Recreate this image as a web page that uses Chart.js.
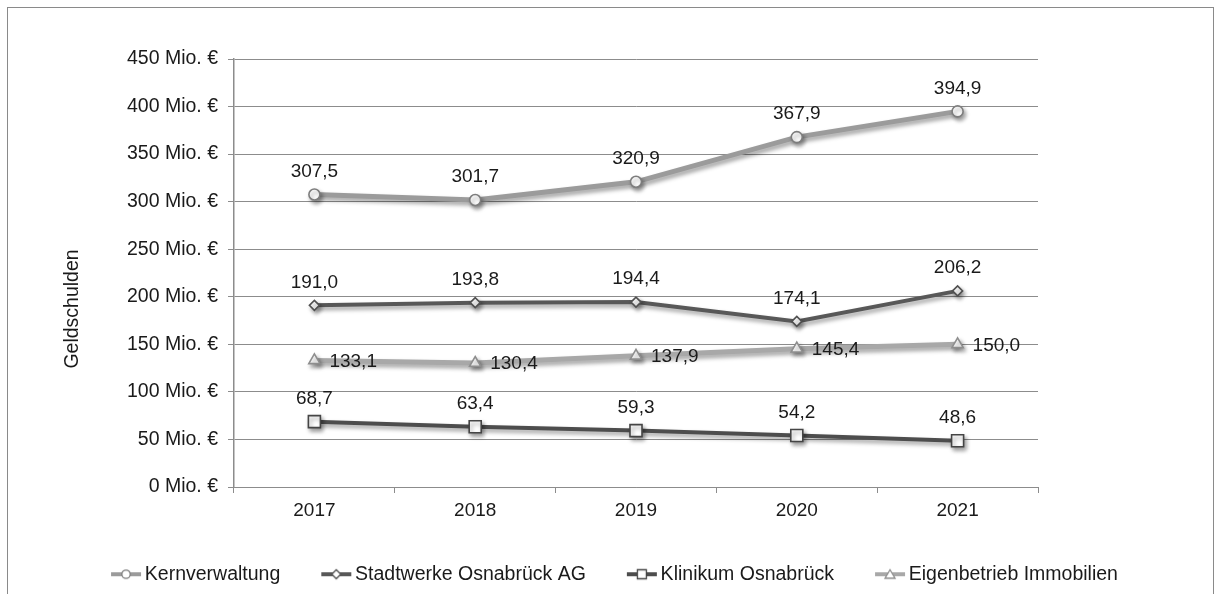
<!DOCTYPE html>
<html>
<head>
<meta charset="utf-8">
<script src="https://cdn.jsdelivr.net/npm/chart.js@4/dist/chart.umd.min.js"></script>
<style>
  html, body { margin: 0; padding: 0; background: #fff; }
  #frame { position: absolute; left: 7px; top: 7px; width: 1207px; height: 620px; border: 1px solid #8a8a8a; box-sizing: border-box; }
  #wrap { position: absolute; left: 0; top: 0; width: 1214px; height: 594px; }
</style>
</head>
<body>
<div id="frame"></div>
<div id="wrap"><canvas id="c" width="1214" height="594"></canvas></div>
<script>
// Jahre
const years = ['2017', '2018', '2019', '2020', '2021'];

// Geldschulden in Mio. €
const kernverwaltung = [307.5, 301.7, 320.9, 367.9, 394.9];
const stadtwerke     = [191.0, 193.8, 194.4, 174.1, 206.2];
const klinikum       = [68.7, 63.4, 59.3, 54.2, 48.6];
const eigenbetrieb   = [133.1, 130.4, 137.9, 145.4, 150.0];

const seriesNames = ['Kernverwaltung', 'Stadtwerke Osnabrück AG', 'Klinikum Osnabrück', 'Eigenbetrieb Immobilien'];

// Achse
const yMin = 0, yMax = 450, yStep = 50;
const yUnit = ' Mio. €';
const yTitle = 'Geldschulden';

const FONT = "'Liberation Sans', Arial, sans-serif";
const TEXT = '#1a1a1a';
const GRID = '#8c8c8c';

const fmt = v => v.toFixed(1).replace('.', ',');

// small legend icon: line segment with the series marker in the middle
function legendIcon(lineColor, markerColor, style) {
  const bw = 55, W = bw + 14, H = 14;
  const cv = document.createElement('canvas');
  cv.width = W; cv.height = H;
  const c = cv.getContext('2d');
  const x0 = W - 31, x1 = W - 1, cy = H / 2, cx = (x0 + x1) / 2;
  c.strokeStyle = lineColor; c.lineWidth = 4;
  c.beginPath(); c.moveTo(x0, cy); c.lineTo(x1, cy); c.stroke();
  c.fillStyle = '#fff'; c.strokeStyle = markerColor; c.lineWidth = 1.3;
  c.beginPath();
  if (style === 'circle') c.arc(cx, cy, 4.2, 0, Math.PI * 2);
  else if (style === 'rectRot') { c.moveTo(cx, cy - 4.5); c.lineTo(cx + 4.5, cy); c.lineTo(cx, cy + 4.5); c.lineTo(cx - 4.5, cy); c.closePath(); }
  else if (style === 'rect') c.rect(cx - 4.5, cy - 4.5, 9, 9);
  else { c.moveTo(cx, cy - 4.5); c.lineTo(cx + 5, cy + 4); c.lineTo(cx - 5, cy + 4); c.closePath(); }
  c.fill(); c.stroke();
  return cv;
}

const styles = [
  { data: kernverwaltung, line: '#9b9b9b', mark: '#7d7d7d', ps: 'circle', r: 5.5, w: 5, pos: 'above' },
  { data: stadtwerke,     line: '#585858', mark: '#505050', ps: 'rectRot', r: 5, w: 4, pos: 'above' },
  { data: klinikum,       line: '#4d4d4d', mark: '#454545', ps: 'rect', r: 8.5, w: 4, pos: 'above' },
  { data: eigenbetrieb,   line: '#a8a8a8', mark: '#8e8e8e', ps: 'triangle', r: 6.5, w: 5, pos: 'right' }
];

const datasets = styles.map((s, i) => ({
  label: seriesNames[i],
  data: s.data,
  borderColor: s.line,
  borderWidth: s.w,
  backgroundColor: '#ffffff',
  pointStyle: s.ps,
  pointRadius: s.r,
  pointHoverRadius: s.r,
  pointBackgroundColor: '#ffffff',
  pointBorderColor: s.mark,
  pointBorderWidth: 1.6,
  tension: 0,
  fill: false,
  labelPos: s.pos,
  legendIcon: legendIcon(s.line, s.mark, s.ps)
}));

// soft drop shadow under each series
const shadowPlugin = {
  id: 'shadow',
  beforeDatasetDraw(chart) {
    const ctx = chart.ctx;
    ctx.save();
    ctx.shadowColor = 'rgba(0,0,0,0.38)';
    ctx.shadowBlur = 4;
    ctx.shadowOffsetX = 2;
    ctx.shadowOffsetY = 3;
  },
  afterDatasetDraw(chart) { chart.ctx.restore(); }
};

// value labels next to the points
const valueLabels = {
  id: 'valueLabels',
  afterDatasetsDraw(chart) {
    const ctx = chart.ctx;
    ctx.save();
    ctx.font = '19px ' + FONT;
    ctx.fillStyle = TEXT;
    chart.data.datasets.forEach((ds, i) => {
      const meta = chart.getDatasetMeta(i);
      meta.data.forEach((pt, j) => {
        const txt = fmt(ds.data[j]);
        if (ds.labelPos === 'right') {
          ctx.textAlign = 'left'; ctx.textBaseline = 'middle';
          ctx.fillText(txt, pt.x + 15, pt.y + 1);
        } else {
          ctx.textAlign = 'center'; ctx.textBaseline = 'middle';
          ctx.fillText(txt, pt.x, pt.y - 23);
        }
      });
    });
    ctx.restore();
  }
};

// rotated axis title left of the value axis
const axisTitle = {
  id: 'axisTitle',
  afterDraw(chart) {
    const ctx = chart.ctx;
    ctx.save();
    ctx.translate(73, 309);
    ctx.rotate(-Math.PI / 2);
    ctx.font = '19.5px ' + FONT;
    ctx.fillStyle = TEXT;
    ctx.textAlign = 'center'; ctx.textBaseline = 'middle';
    ctx.fillText(yTitle, 0, 0);
    ctx.restore();
  }
};

new Chart(document.getElementById('c'), {
  type: 'line',
  data: { labels: years, datasets },
  plugins: [shadowPlugin, valueLabels, axisTitle],
  options: {
    responsive: false,
    animation: false,
    events: [],
    layout: { padding: { left: 0, right: 16, top: 59, bottom: 0 } },
    plugins: {
      tooltip: { enabled: false },
      legend: {
        position: 'bottom',
        labels: {
          usePointStyle: true,
          pointStyleWidth: 55,
          padding: 10,
          color: TEXT,
          font: { family: FONT, size: 19.5 },
          generateLabels(chart) {
            return chart.data.datasets.map((ds, i) => ({
              text: ds.label,
              pointStyle: ds.legendIcon,
              fillStyle: '#fff',
              strokeStyle: ds.borderColor,
              lineWidth: 0,
              hidden: false,
              datasetIndex: i,
              fontColor: TEXT
            }));
          }
        }
      }
    },
    scales: {
      x: {
        offset: true,
        grid: { display: true, offset: true, drawOnChartArea: false, tickLength: 6, color: GRID, lineWidth: 1 },
        border: { display: true, color: GRID, width: 1 },
        ticks: { color: TEXT, font: { family: FONT, size: 19 }, padding: 6, maxRotation: 0 },
        afterFit(s) { s.height = 67.5; }
      },
      y: {
        min: yMin, max: yMax,
        grid: { color: GRID, lineWidth: 1, tickLength: 6 },
        border: { display: true, color: GRID, width: 1.5 },
        ticks: {
          stepSize: yStep,
          padding: 10,
          color: TEXT,
          font: { family: FONT, size: 19.5 },
          callback: v => v + yUnit
        },
        afterFit(s) { s.width = 234; }
      },
      yr: {
        position: 'right',
        display: true,
        min: yMin, max: yMax,
        grid: { display: false, drawOnChartArea: false },
        border: { display: false },
        ticks: { display: false },
        afterFit(s) { s.width = 160; }
      }
    }
  }
});
</script>
</body>
</html>
